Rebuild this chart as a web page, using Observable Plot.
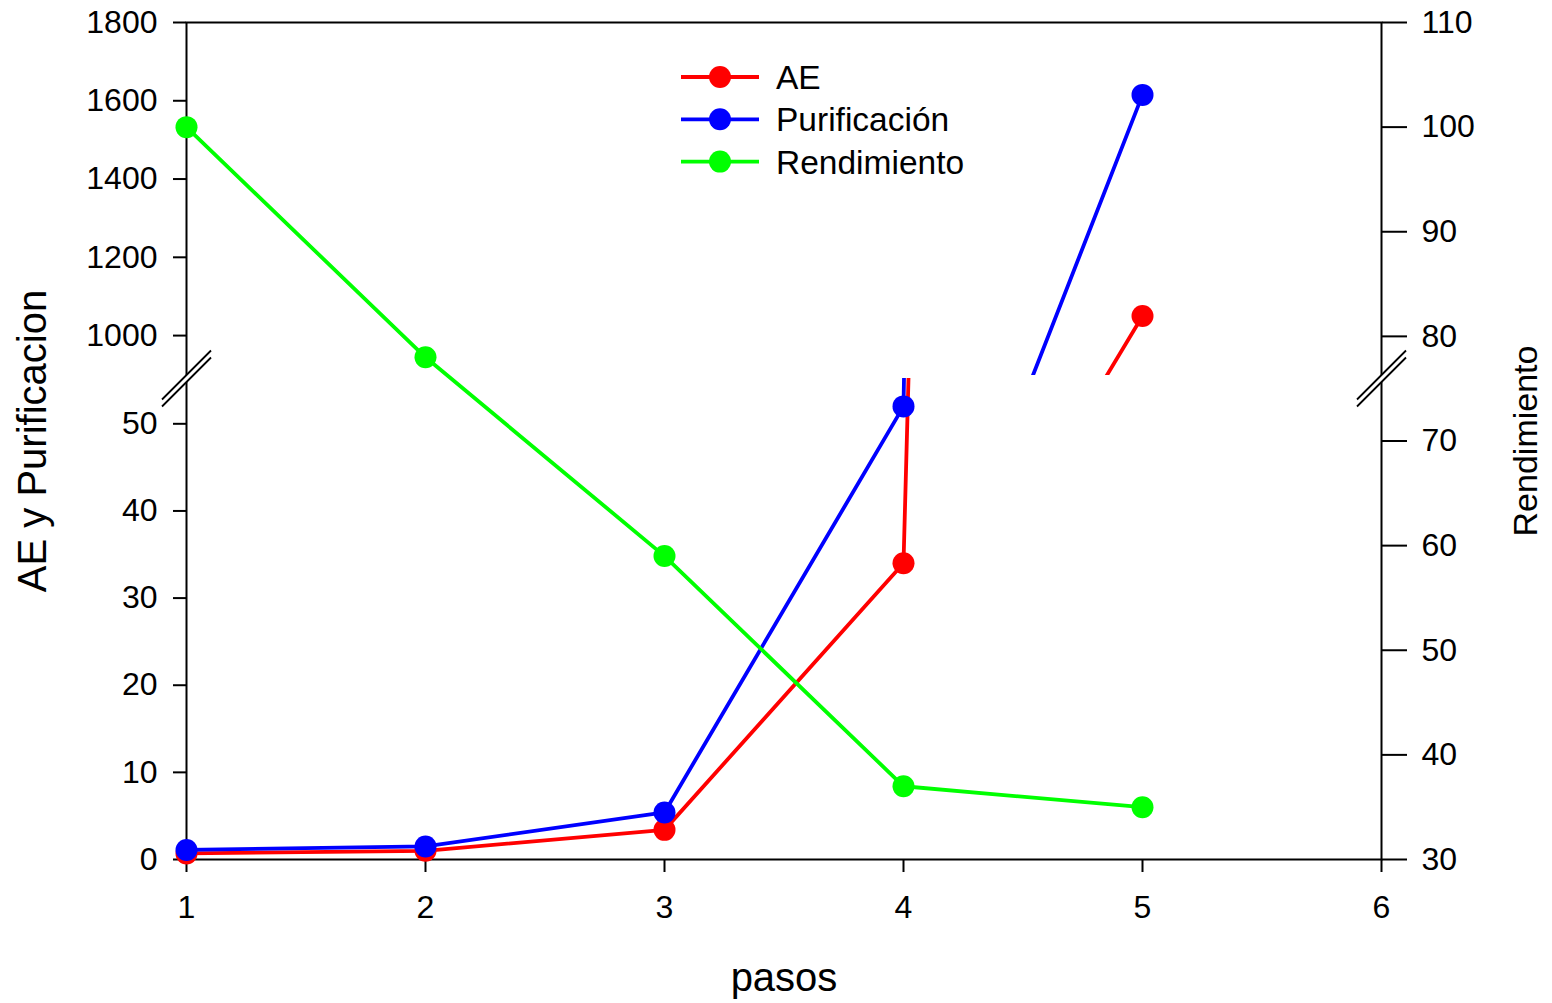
<!DOCTYPE html>
<html>
<head>
<meta charset="utf-8">
<script src="https://cdn.jsdelivr.net/npm/d3@7"></script>
<script src="https://cdn.jsdelivr.net/npm/@observablehq/plot@0.6"></script>
<style>
  html, body { margin: 0; padding: 0; background: #fff; }
  #chart { position: relative; width: 1552px; height: 1003px; font-family: "Liberation Sans", Arial, sans-serif; }
  #chart svg { position: absolute; left: 0; top: 0; }
</style>
</head>
<body>
<div id="chart"></div>
<script>
// ---------- data ----------
const pasos = [1, 2, 3, 4, 5];
const ae = [0.7, 1.0, 3.4, 34, 1050];
const purificacion = [1.1, 1.5, 5.4, 52, 1615];
const rendimiento = [100, 78, 59, 37, 35];
const seriesNames = ["AE", "Purificación", "Rendimiento"];
const seriesColors = ["#ff0000", "#0000ff", "#00ff00"];
const xTicks = [1, 2, 3, 4, 5, 6];
const lowerTicks = [0, 10, 20, 30, 40, 50];
const upperTicks = [1000, 1200, 1400, 1600, 1800];
const rightTicks = [30, 40, 50, 60, 70, 80, 90, 100, 110];
const xDomain = [1, 6];
const lowerDomain = [0, 55.2];
const upperDomain = [898, 1800];
const rightDomain = [30, 110];
const xLabel = "pasos";
const leftLabel = "AE y Purificacion";
const rightLabel = "Rendimiento";

// ---------- layout ----------
const W = 1552, H = 1003;
const mL = 186, mR = 171, mT = 22, mB = 144;
const lowerTop = 378;    // top pixel of the lower segment
const upperBottom = 375; // bottom pixel of the upper segment
const font = "Liberation Sans, Arial, sans-serif";
const tickFont = 32;
const lineW = 3.8, dotR = 11, axisW = 2;

const style = { background: "transparent", fontFamily: font, fontSize: tickFont + "px", color: "black", overflow: "visible" };

const abSeries = [
  { name: seriesNames[0], values: ae },
  { name: seriesNames[1], values: purificacion }
];
const long = abSeries.flatMap(s => pasos.map((p, i) => ({ paso: p, serie: s.name, v: s.values[i] })));
const green = pasos.map((p, i) => ({ paso: p, serie: seriesNames[2], v: rendimiento[i] }));
const color = { domain: seriesNames, range: seriesColors };

const seriesMarks = (filterFn) => abSeries.flatMap(s => [
  Plot.line(long.filter(d => d.serie === s.name), { x: "paso", y: "v", stroke: "serie", strokeWidth: lineW, clip: true }),
  Plot.dot(long.filter(d => d.serie === s.name && filterFn(d.v)), { x: "paso", y: "v", fill: "serie", r: dotR })
]);

// break symbols (double slash)
const breakFill = { draw(ctx) { ctx.moveTo(-24.5, 21); ctx.lineTo(24.5, -28); ctx.lineTo(24.5, -21); ctx.lineTo(-24.5, 28); ctx.closePath(); } };
const breakLines = { draw(ctx) { ctx.moveTo(-24.5, 21); ctx.lineTo(24.5, -28); ctx.moveTo(-24.5, 28); ctx.lineTo(24.5, -21); } };
const breakAt = [xDomain[0], xDomain[1]];

const chart = document.getElementById("chart");

// Layer 1: base (frame, x axis, right axis, labels)
const base = Plot.plot({
  width: W, height: H, marginLeft: mL, marginRight: mR, marginTop: mT, marginBottom: mB,
  x: { domain: xDomain }, y: { domain: rightDomain },
  style,
  marks: [
    Plot.frame({ stroke: "black", strokeWidth: axisW }),
    Plot.axisX({ ticks: xTicks, tickSize: 13, tickPadding: 23, strokeWidth: axisW, label: null, tickFormat: d => `${d}`, fontSize: tickFont }),
    Plot.axisY({ anchor: "right", ticks: rightTicks, tickSize: 25, tickPadding: 15, strokeWidth: axisW, label: null, tickFormat: d => `${d}`, fontSize: tickFont }),
    Plot.text([leftLabel], { text: d => d, frameAnchor: "left", dx: -153, rotate: -90, textAnchor: "middle", lineAnchor: "middle", fontSize: 40 }),
    Plot.text([rightLabel], { text: d => d, frameAnchor: "right", dx: 145, rotate: -90, textAnchor: "middle", lineAnchor: "middle", fontSize: 34 }),
    Plot.text([xLabel], { text: d => d, frameAnchor: "bottom", dy: 119, textAnchor: "middle", lineAnchor: "middle", fontSize: 40 })
  ]
});
chart.appendChild(base);

// Layer 2: upper segment of the left axis
const upper = Plot.plot({
  width: W, height: H, marginLeft: mL, marginRight: mR, marginTop: mT, marginBottom: H - upperBottom,
  x: { domain: xDomain, axis: null }, y: { domain: upperDomain }, color,
  style,
  marks: [
    Plot.axisY({ anchor: "left", ticks: upperTicks, tickSize: 13, tickPadding: 16, strokeWidth: axisW, label: null, tickFormat: d => `${d}`, fontSize: tickFont }),
    ...seriesMarks(v => v >= upperDomain[0])
  ]
});
chart.appendChild(upper);

// Layer 3: lower segment of the left axis, with break marks
const lower = Plot.plot({
  width: W, height: H, marginLeft: mL, marginRight: mR, marginTop: lowerTop, marginBottom: mB,
  x: { domain: xDomain, axis: null }, y: { domain: lowerDomain }, color,
  style,
  marks: [
    Plot.axisY({ anchor: "left", ticks: lowerTicks, tickSize: 13, tickPadding: 16, strokeWidth: axisW, label: null, tickFormat: d => `${d}`, fontSize: tickFont }),
    ...seriesMarks(v => v <= lowerDomain[1]),
    Plot.dot(breakAt, { x: d => d, y: () => lowerDomain[1], symbol: breakFill, r: 1, fill: "white", stroke: "none" }),
    Plot.dot(breakAt, { x: d => d, y: () => lowerDomain[1], symbol: breakLines, r: 1, fill: "none", stroke: "black", strokeWidth: 1.8 })
  ]
});
chart.appendChild(lower);

// Layer 4: Rendimiento series (right axis scale)
const greenPlot = Plot.plot({
  width: W, height: H, marginLeft: mL, marginRight: mR, marginTop: mT, marginBottom: mB,
  x: { domain: xDomain, axis: null }, y: { domain: rightDomain, axis: null }, color,
  style,
  marks: [
    Plot.line(green, { x: "paso", y: "v", stroke: "serie", strokeWidth: lineW }),
    Plot.dot(green, { x: "paso", y: "v", fill: "serie", r: dotR })
  ]
});
chart.appendChild(greenPlot);

// Legend
const legX0 = 681, legX1 = 759, legDot = 720, legText = 776, legY0 = 77, legDy = 42.3;
const leg = d3.create("svg").attr("width", W).attr("height", H).style("font-family", font);
seriesNames.forEach((name, i) => {
  const y = legY0 + i * legDy;
  const g = leg.append("g");
  g.append("line").attr("x1", legX0).attr("x2", legX1).attr("y1", y).attr("y2", y)
    .attr("stroke", seriesColors[i]).attr("stroke-width", lineW);
  g.append("circle").attr("cx", legDot).attr("cy", y).attr("r", dotR).attr("fill", seriesColors[i]);
  g.append("text").attr("x", legText).attr("y", y + 12).attr("font-size", 33.5).attr("fill", "black").text(name);
});
chart.appendChild(leg.node());
</script>
</body>
</html>
